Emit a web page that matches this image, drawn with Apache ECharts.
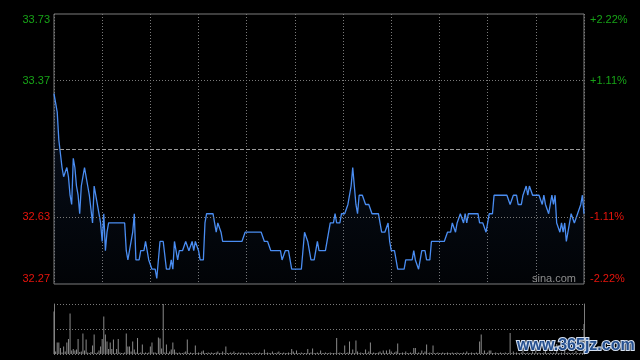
<!DOCTYPE html>
<html>
<head>
<meta charset="utf-8">
<script src="https://cdn.jsdelivr.net/npm/echarts@6/dist/echarts.min.js"></script>
<style>
html,body{margin:0;padding:0;background:#000;}
#c{width:640px;height:360px;}
</style>
</head>
<body>
<div id="c"></div>
<script>
// ---- data ----
const prevClose = 33.00;
const tickValues = [32.27, 32.63, 33.37, 33.73];
const leftLabels = ['32.27', '32.63', '33.37', '33.73'];
const rightLabels = ['-2.22%', '-1.11%', '+1.11%', '+2.22%'];
const gridPrices = [32.63, 33.37];
const minuteTicks = [0, 330];

const prices = [
33.30,33.25,33.20,33.05,33.05,32.90,32.85,32.85,32.90,32.85,
32.75,32.70,32.95,32.90,32.80,32.75,32.65,32.80,32.80,32.90,
32.90,32.80,32.75,32.75,32.60,32.80,32.80,32.70,32.65,32.60,
32.50,32.65,32.45,32.55,32.60,32.60,32.60,32.60,32.60,32.60,
32.60,32.60,32.60,32.60,32.60,32.45,32.40,32.45,32.45,32.55,
32.65,32.40,32.40,32.40,32.45,32.45,32.45,32.50,32.50,32.40,
32.40,32.35,32.35,32.35,32.30,32.30,32.50,32.50,32.50,32.50,
32.35,32.35,32.35,32.40,32.35,32.50,32.50,32.40,32.45,32.45,
32.45,32.45,32.50,32.50,32.45,32.45,32.50,32.45,32.50,32.50,
32.45,32.40,32.40,32.40,32.60,32.65,32.65,32.65,32.65,32.65,
32.65,32.55,32.60,32.60,32.55,32.50,32.50,32.50,32.50,32.50,
32.50,32.50,32.50,32.50,32.50,32.50,32.50,32.50,32.50,32.55,
32.55,32.55,32.55,32.55,32.55,32.55,32.55,32.55,32.55,32.55,
32.55,32.50,32.50,32.50,32.50,32.45,32.45,32.45,32.45,32.45,
32.45,32.45,32.40,32.40,32.45,32.45,32.45,32.40,32.35,32.35,
32.35,32.35,32.35,32.35,32.35,32.45,32.55,32.55,32.50,32.50,
32.40,32.40,32.40,32.40,32.50,32.45,32.45,32.45,32.45,32.45,
32.45,32.55,32.60,32.60,32.60,32.65,32.60,32.60,32.60,32.65,
32.65,32.65,32.65,32.70,32.75,32.80,32.90,32.80,32.70,32.65,
32.75,32.75,32.75,32.75,32.70,32.70,32.70,32.70,32.65,32.65,
32.65,32.65,32.65,32.60,32.55,32.55,32.55,32.55,32.60,32.50,
32.45,32.45,32.45,32.45,32.35,32.35,32.35,32.35,32.35,32.40,
32.40,32.40,32.40,32.40,32.45,32.40,32.40,32.35,32.40,32.45,
32.45,32.45,32.40,32.40,32.40,32.50,32.50,32.50,32.50,32.50,
32.50,32.50,32.50,32.50,32.50,32.55,32.55,32.55,32.60,32.60,
32.55,32.60,32.60,32.65,32.65,32.60,32.65,32.60,32.65,32.65,
32.65,32.65,32.65,32.65,32.65,32.60,32.60,32.60,32.60,32.55,
32.55,32.65,32.65,32.65,32.75,32.75,32.75,32.75,32.75,32.75,
32.75,32.75,32.75,32.75,32.70,32.70,32.75,32.75,32.75,32.70,
32.70,32.70,32.75,32.75,32.80,32.75,32.80,32.80,32.75,32.75,
32.75,32.75,32.75,32.75,32.70,32.75,32.70,32.70,32.65,32.70,
32.75,32.70,32.75,32.60,32.60,32.55,32.60,32.55,32.60,32.50,
32.55,32.60,32.65,32.65,32.60,32.60,32.65,32.65,32.70,32.75,32.65
];

const volumes = [
85,5,23,23,12,3,15,5,23,30,
81,7,10,7,9,30,4,5,41,7,
29,3,2,4,17,39,2,3,7,15,
30,75,39,25,10,23,10,29,2,10,
30,3,2,2,3,41,15,15,5,25,
9,3,32,2,3,19,2,3,2,3,
15,23,3,3,2,33,31,11,100,3,
19,2,5,9,23,9,3,2,3,2,
2,3,5,29,2,3,2,2,17,2,
3,2,5,7,2,2,3,2,3,2,
2,3,5,2,2,5,2,15,2,2,
3,2,5,2,2,3,2,3,2,2,
2,3,2,2,2,3,2,2,3,2,
2,9,2,3,2,2,5,2,2,3,
5,2,2,3,2,2,3,2,10,5,
2,7,2,2,3,2,2,2,10,2,
3,11,2,2,3,2,7,2,2,3,
2,2,3,2,2,2,32,2,3,2,
2,17,2,3,25,2,9,2,27,5,
2,3,2,2,9,2,5,23,2,3,
2,2,3,5,2,7,2,7,2,9,
5,2,3,5,21,2,2,3,2,5,
2,2,3,2,12,12,2,3,2,7,
2,5,19,2,3,2,17,2,2,3,
2,2,3,2,2,3,2,2,3,2,
2,3,2,2,2,3,2,5,2,2,
3,2,2,3,2,25,39,2,7,2,
3,7,7,2,2,3,2,2,3,2,
2,3,2,2,42,2,5,2,3,2,
2,3,10,2,2,3,2,2,5,2,
15,2,3,2,2,3,8,2,2,3,
2,3,2,20,2,2,3,2,8,2,
3,2,2,3,2,6,2,2,3,2,60
];

// ---- chart ----
const GREEN = '#17a317', RED = '#e8140c', GRIDC = '#7a7a7a', BORDER = '#7d7d7d';
function idxOf(v){ for(let i=0;i<tickValues.length;i++){ if(Math.abs(tickValues[i]-v)<1e-6) return i; } return -1; }
function labelColor(v){ return v > prevClose ? GREEN : RED; }
function richLabel(arr){
  return function(v){
    const i = idxOf(v); if(i<0) return '';
    const t = arr[i];
    if (i === tickValues.length-1) return '{t|' + t + '}';
    if (i === 0) return '{b|' + t + '}';
    return '{m|' + t + '}';
  };
}
const richStyles = {
  t:{padding:[11,0,0,0]},
  b:{padding:[0,0,11,0]},
  m:{}
};
const chart = echarts.init(document.getElementById('c'), null, {renderer:'canvas'});
const priceData = prices.map((p,i)=>[i,p]);
const volData = volumes.map((v,i)=>[i,v]);
const lastMinute = prices.length-1;

chart.setOption({
  animation:false,
  backgroundColor:'#000',
  grid:[
    {left:54, right:56, top:14, height:270, show:true, borderColor:BORDER, borderWidth:1, backgroundColor:'transparent'},
    {left:54, right:56, top:304, height:50, show:false}
  ],
  xAxis:[
    {type:'value', gridIndex:0, min:minuteTicks[0], max:lastMinute, interval:30,
     axisLine:{show:false}, axisTick:{show:false}, axisLabel:{show:false},
     splitLine:{show:true, lineStyle:{color:GRIDC, type:[1,2], width:1}}},
    {type:'value', gridIndex:1, min:minuteTicks[0], max:lastMinute, interval:30,
     axisLine:{show:false}, axisTick:{show:false}, axisLabel:{show:false}, splitLine:{show:false}}
  ],
  yAxis:[
    {type:'value', gridIndex:0, position:'left', min:tickValues[0], max:tickValues[tickValues.length-1],
     axisLine:{show:false}, axisTick:{show:false}, splitLine:{show:false},
     axisLabel:{customValues:tickValues, margin:4, fontSize:11, fontFamily:'"Liberation Sans", Arial, sans-serif',
       color:labelColor, formatter:richLabel(leftLabels), rich:richStyles}},
    {type:'value', gridIndex:0, position:'right', min:tickValues[0], max:tickValues[tickValues.length-1],
     axisLine:{show:false}, axisTick:{show:false}, splitLine:{show:false},
     axisLabel:{customValues:tickValues, margin:6, fontSize:11, fontFamily:'"Liberation Sans", Arial, sans-serif',
       color:labelColor, formatter:richLabel(rightLabels), rich:richStyles}},
    {type:'value', gridIndex:1, position:'left', min:0, max:100, interval:50,
     axisLine:{show:true, lineStyle:{color:BORDER}}, axisTick:{show:false}, axisLabel:{show:false},
     splitLine:{show:true, lineStyle:{color:GRIDC, type:[1,2]}}},
    {type:'value', gridIndex:1, position:'right', min:0, max:100,
     axisLine:{show:true, lineStyle:{color:BORDER}}, axisTick:{show:false}, axisLabel:{show:false},
     splitLine:{show:false}}
  ],
  series:[
    {type:'line', xAxisIndex:0, yAxisIndex:0, data:priceData, showSymbol:false, symbol:'none',
     lineStyle:{color:'#4a8df2', width:1.3},
     areaStyle:{origin:'start', color:new echarts.graphic.LinearGradient(0,0,0,1,[
        {offset:0, color:'rgba(40,80,150,0.28)'},{offset:1, color:'rgba(40,80,150,0.06)'}])},
     markLine:{silent:true, symbol:['none','none'], label:{show:false}, animation:false,
       data:gridPrices.map(v=>({yAxis:v, lineStyle:{color:GRIDC, type:[1,2], width:1}}))
         .concat([{yAxis:prevClose, lineStyle:{color:'#9a9a9a', type:[4,2], width:1}}])},
     z:3},
    {type:'bar', xAxisIndex:1, yAxisIndex:2, data:volData, barWidth:1,
     itemStyle:{color:'#8a8a8a'}, z:2}
  ],
  graphic:[
    {type:'text', left:532, top:273, z:10, silent:true,
     style:{text:'sina.com', fill:'#8e8e8e', font:'11px "Liberation Sans", Arial, sans-serif'}},
    {type:'text', left:516, top:337, z:20, silent:true,
     style:{text:'www.365jz.com', fill:'#26508f', stroke:'#d5e0f0', lineWidth:2,
            font:'bold 16px "Liberation Sans", Arial, sans-serif',
            shadowColor:'rgba(0,0,0,0.6)', shadowBlur:2, shadowOffsetX:1, shadowOffsetY:1}}
  ]
});
</script>
</body>
</html>
